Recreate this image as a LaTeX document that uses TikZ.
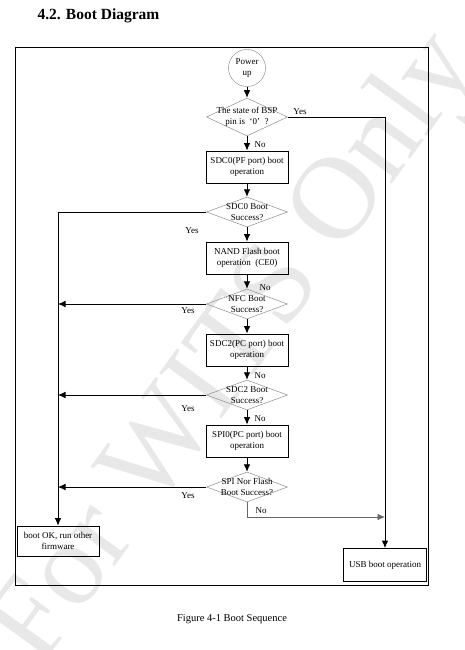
\documentclass[tikz,border=0pt]{standalone}
\usepackage{fontspec}
\setmainfont{Liberation Serif}
\usetikzlibrary{shapes.geometric,arrows.meta}

\begin{document}
\begin{tikzpicture}[x=1pt,y=-1pt,font=\fontsize{9}{10.5}\selectfont,
    proc/.style={draw,rectangle,minimum width=82pt,minimum height=32pt,align=center,inner sep=1pt,line width=0.8pt},
    cond/.style={draw=black!45,diamond,minimum width=81pt,minimum height=30pt,inner sep=0pt,line width=0.5pt},
    flow/.style={line width=0.8pt,-{Latex[length=7.5pt,width=6.5pt]}},
    every label/.style={align=center}]
  \useasboundingbox (0,0) rectangle (465,650);
  % watermark behind everything
  \node[text=black!9,rotate=54,font=\fontsize{118}{118}\selectfont] (wm) at (237,350) {For WITS Only};
  \node[anchor=west,font=\fontsize{15.5}{17}\selectfont\bfseries] (title) at (34,16) {4.2. Boot Diagram};
  \draw[line width=1pt] (15,48) rectangle (428,585);
  \node[draw=black!50,circle,minimum size=37pt,inner sep=0pt,align=center] (pwr) at (247,68) {Power\\up};
  \node[cond,minimum height=38pt,label=center:{The state of BSP\\pin is\ \ ‘0’\ \ ?}] (bsp) at (247,117) {};
  \node[proc] (sdc0) at (247,167) {SDC0(PF port) boot\\operation};
  \node[cond,label=center:{SDC0 Boot\\Success?}] (sdc0ok) at (247,212) {};
  \node[proc] (nand) at (247,258) {NAND Flash boot\\operation\ \ (CE0)};
  \node[cond,label=center:{NFC Boot\\Success?}] (nandok) at (247,304) {};
  \node[proc] (sdc2) at (247,350) {SDC2(PC port) boot\\operation};
  \node[cond,label=center:{SDC2 Boot\\Success?}] (sdc2ok) at (247,395) {};
  \node[proc] (spi0) at (247,441) {SPI0(PC port) boot\\operation};
  \node[cond,label=center:{SPI Nor Flash\\Boot Success?}] (spi0ok) at (247,487) {};
  \node[proc,minimum height=30pt] (ok) at (58,541) {boot OK, run other\\firmware};
  \node[proc,minimum width=83pt,minimum height=33pt] (usb) at (385,565) {USB boot operation};
  \coordinate (nojoin) at (0,517);
  % main column
  \draw[flow] (pwr) -- (bsp);
  \draw[flow] (bsp) -- node[pos=0.6,anchor=west,xshift=4pt] {No} (sdc0);
  \draw[flow] (sdc0) -- (sdc0ok);
  \draw[flow] (sdc0ok) -- (nand);
  \draw[flow] (nand) -- node[pos=0.9,anchor=west,xshift=9pt] {No} (nandok);
  \draw[flow] (nandok) -- (sdc2);
  \draw[flow] (sdc2) -- node[pos=0.7,anchor=west,xshift=4pt] {No} (sdc2ok);
  \draw[flow] (sdc2ok) -- node[pos=0.6,anchor=west,xshift=4pt] {No} (spi0);
  \draw[flow] (spi0) -- (spi0ok);
  % branches
  \draw[flow] (bsp.east) -- node[pos=0,anchor=south west,xshift=2pt,yshift=-1pt] {Yes} (bsp.east -| usb.north) -- (usb.north);
  \draw[flow] (sdc0ok.west) -- node[pos=0,anchor=north east,xshift=-4pt,yshift=-12pt] {Yes} (sdc0ok.west -| ok.north) -- (ok.north);
  \foreach \d/\s in {nandok/0,sdc2ok/7,spi0ok/2}
    \draw[flow] (\d.west) -- node[pos=0,anchor=north east,xshift=-8pt,yshift=-\s pt] {Yes} (\d.west -| ok.north);
  \draw[flow,draw=black!60] (spi0ok.south) |- node[pos=0.5,anchor=south west,xshift=5pt] {No} (usb.north |- nojoin);
  \node[font=\fontsize{10.5}{12}\selectfont] (cap) at (232,619) {Figure 4-1 Boot Sequence};
\end{tikzpicture}
\end{document}
